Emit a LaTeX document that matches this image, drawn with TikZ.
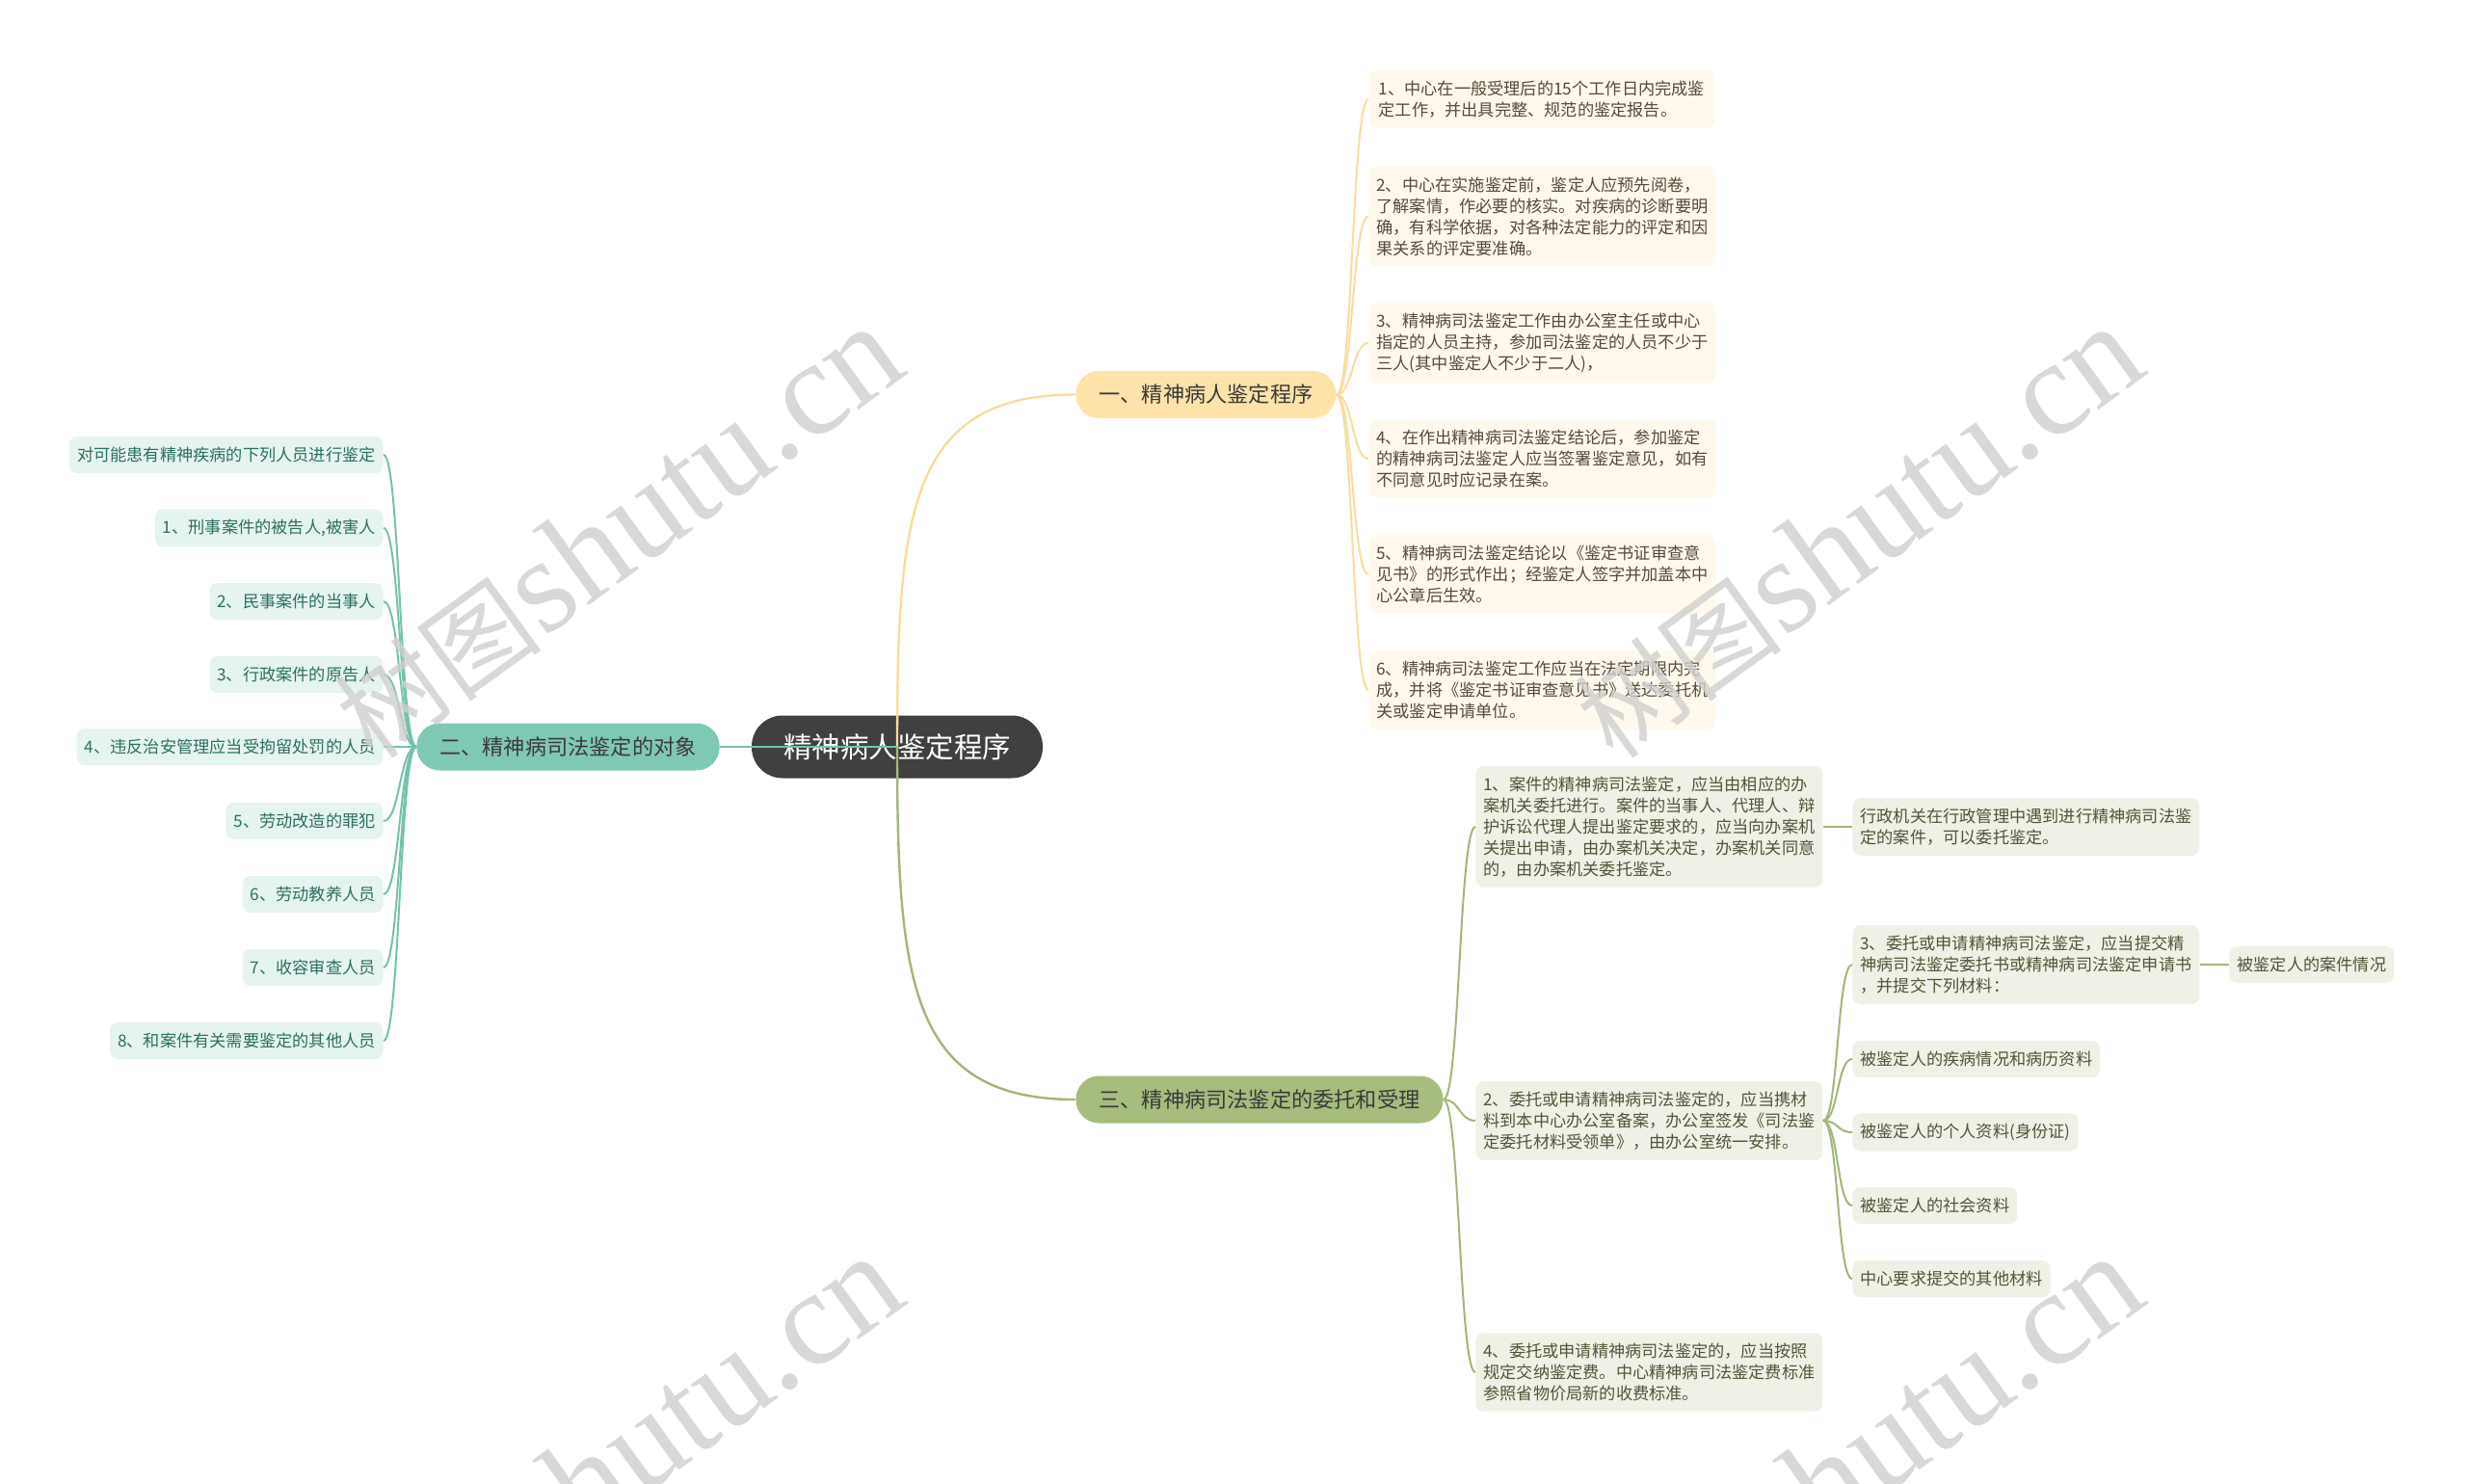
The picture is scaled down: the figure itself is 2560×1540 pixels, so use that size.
\documentclass[tikz,border=0pt]{standalone}
\usepackage{fontspec}
\setmainfont{Noto Sans CJK SC}
\newfontfamily\wmlat{Liberation Serif}
\definecolor{rootc}{HTML}{404040}
\definecolor{bonefill}{HTML}{FDE3A9}
\definecolor{btwofill}{HTML}{80C8B6}
\definecolor{bthreefill}{HTML}{A6BD7D}
\definecolor{btext}{HTML}{3A3A3A}
\definecolor{lonefill}{HTML}{FEF9EC}
\definecolor{ltwofill}{HTML}{E6F4F0}
\definecolor{lthreefill}{HTML}{EFF1E6}
\definecolor{lonetext}{HTML}{554A3C}
\definecolor{ltwotext}{HTML}{2C6F60}
\definecolor{lthreetext}{HTML}{4E5637}
\definecolor{cone}{HTML}{FADC9C}
\definecolor{ctwo}{HTML}{74C2AE}
\definecolor{cthree}{HTML}{A2B77A}
\definecolor{wmc}{HTML}{CFCFCF}
\begin{document}
\begin{tikzpicture}[x=0.5pt,y=-0.5pt,
  rootbox/.style={fill=rootc, text=white, rounded corners=16pt, minimum width=151pt, minimum height=32.5pt, inner sep=0pt, font=\fontsize{14.75pt}{17pt}\selectfont},
  branch/.style={text=btext, rounded corners=12pt, minimum height=24.5pt, inner xsep=12pt, inner ysep=0pt, font=\fontsize{11.1pt}{13pt}\selectfont},
  leaf/.style={rounded corners=4pt, inner xsep=4pt, inner ysep=5.3pt, align=left, minimum height=19pt, font=\fontsize{8.6pt}{11pt}\selectfont},
  lone/.style={leaf, fill=lonefill, text=lonetext, minimum width=179.5pt, anchor=west},
  ltwo/.style={leaf, fill=ltwofill, text=ltwotext, anchor=east},
  lthree/.style={leaf, fill=lthreefill, text=lthreetext, anchor=west},
  lthreew/.style={lthree, minimum width=179.5pt},
  conn/.style={line width=1pt},
  mainconn/.style={line width=1.2pt},
  wm/.style={text=wmc, opacity=0.8, rotate=36, inner sep=0pt},
  wmlatin/.style={wm, anchor=base west, font=\wmlat\fontsize{70pt}{80pt}\selectfont},
  wmcjk/.style={wm, anchor=base east, font=\fontsize{54pt}{60pt}\selectfont}
]
\useasboundingbox (0,0) rectangle (2560,1540);
\fill[white] (0,0) rectangle (2560,1540);

% root and branches
\node[rootbox] (root) at (931,775) {精神病人鉴定程序};
\node[branch, fill=bonefill] (b1) at (1251.5,409.5) {一、精神病人鉴定程序};
\node[branch, fill=btwofill] (b2) at (589.5,775) {二、精神病司法鉴定的对象};
\node[branch, fill=bthreefill] (b3) at (1307,1141) {三、精神病司法鉴定的委托和受理};

% branch 1 leaves
\node[lone] (a1) at (1420,103) {1、中心在一般受理后的15个工作日内完成鉴\\定工作，并出具完整、规范的鉴定报告。};
\node[lone] (a2) at (1420,224.5) {2、中心在实施鉴定前，鉴定人应预先阅卷，\\了解案情，作必要的核实。对疾病的诊断要明\\确，有科学依据，对各种法定能力的评定和因\\果关系的评定要准确。};
\node[lone] (a3) at (1420,356) {3、精神病司法鉴定工作由办公室主任或中心\\指定的人员主持，参加司法鉴定的人员不少于\\三人(其中鉴定人不少于二人)，};
\node[lone] (a4) at (1420,476) {4、在作出精神病司法鉴定结论后，参加鉴定\\的精神病司法鉴定人应当签署鉴定意见，如有\\不同意见时应记录在案。};
\node[lone] (a5) at (1420,596) {5、精神病司法鉴定结论以《鉴定书证审查意\\见书》的形式作出；经鉴定人签字并加盖本中\\心公章后生效。};
\node[lone] (a6) at (1420,716) {6、精神病司法鉴定工作应当在法定期限内完\\成，并将《鉴定书证审查意见书》送达委托机\\关或鉴定申请单位。};

% branch 2 leaves
\node[ltwo] (p0) at (398,472) {对可能患有精神疾病的下列人员进行鉴定};
\node[ltwo] (p1) at (398,548) {1、刑事案件的被告人,被害人};
\node[ltwo] (p2) at (398,624) {2、民事案件的当事人};
\node[ltwo] (p3) at (398,700) {3、行政案件的原告人};
\node[ltwo] (p4) at (398,775) {4、违反治安管理应当受拘留处罚的人员};
\node[ltwo] (p5) at (398,852) {5、劳动改造的罪犯};
\node[ltwo] (p6) at (398,928) {6、劳动教养人员};
\node[ltwo] (p7) at (398,1004) {7、收容审查人员};
\node[ltwo] (p8) at (398,1080) {8、和案件有关需要鉴定的其他人员};

% branch 3 leaves
\node[lthreew] (c1) at (1531,858) {1、案件的精神病司法鉴定，应当由相应的办\\案机关委托进行。案件的当事人、代理人、辩\\护诉讼代理人提出鉴定要求的，应当向办案机\\关提出申请，由办案机关决定，办案机关同意\\的，由办案机关委托鉴定。};
\node[lthreew] (c2) at (1531,1163) {2、委托或申请精神病司法鉴定的，应当携材\\料到本中心办公室备案，办公室签发《司法鉴\\定委托材料受领单》，由办公室统一安排。};
\node[lthreew] (c3) at (1531,1424) {4、委托或申请精神病司法鉴定的，应当按照\\规定交纳鉴定费。中心精神病司法鉴定费标准\\参照省物价局新的收费标准。};

\node[lthreew] (d1) at (1922,858) {行政机关在行政管理中遇到进行精神病司法鉴\\定的案件，可以委托鉴定。};
\node[lthreew] (e1) at (1922,1001) {3、委托或申请精神病司法鉴定，应当提交精\\神病司法鉴定委托书或精神病司法鉴定申请书\\，并提交下列材料：};
\node[lthree] (e2) at (1922,1099) {被鉴定人的疾病情况和病历资料};
\node[lthree] (e3) at (1922,1175) {被鉴定人的个人资料(身份证)};
\node[lthree] (e4) at (1922,1251) {被鉴定人的社会资料};
\node[lthree] (e5) at (1922,1327) {中心要求提交的其他材料};
\node[lthree] (f1) at (2313,1001) {被鉴定人的案件情况};

% main connectors
\draw[mainconn, cone] (root.center) .. controls +(0,-245) and +(-172,0) .. (b1.west);
\draw[mainconn, ctwo] (root.center) -- (b2.east);
\draw[mainconn, cthree] (root.center) .. controls +(0,245) and +(-172,0) .. (b3.west);

% leaf connectors
\foreach \n in {a1,a2,a3,a4,a5,a6}
  \draw[conn, cone] (b1.east) .. controls +(17,0) and +(-17,0) .. (\n.west);
\foreach \n in {p0,p1,p2,p3,p4,p5,p6,p7,p8}
  \draw[conn, ctwo] (b2.west) .. controls +(-17,0) and +(17,0) .. (\n.east);
\foreach \n in {c1,c2,c3}
  \draw[conn, cthree] (b3.east) .. controls +(17,0) and +(-17,0) .. (\n.west);
\draw[conn, cthree] (c1.east) .. controls +(16,0) and +(-16,0) .. (d1.west);
\foreach \n in {e1,e2,e3,e4,e5}
  \draw[conn, cthree] (c2.east) .. controls +(16,0) and +(-16,0) .. (\n.west);
\draw[conn, cthree] (e1.east) .. controls +(16,0) and +(-16,0) .. (f1.west);

% watermarks
\node[wmlatin] (w1) at (564,663) {shutu.cn};
\node[wmcjk] (w1c) at (w1.base west) {树图\hspace{12pt}};
\node[wmlatin] (w2) at (1851,663) {shutu.cn};
\node[wmcjk] (w2c) at (w2.base west) {树图\hspace{12pt}};
\node[wmlatin] (w3) at (564,1628) {shutu.cn};
\node[wmcjk] (w3c) at (w3.base west) {树图\hspace{12pt}};
\node[wmlatin] (w4) at (1851,1628) {shutu.cn};
\node[wmcjk] (w4c) at (w4.base west) {树图\hspace{12pt}};
\end{tikzpicture}
\end{document}
